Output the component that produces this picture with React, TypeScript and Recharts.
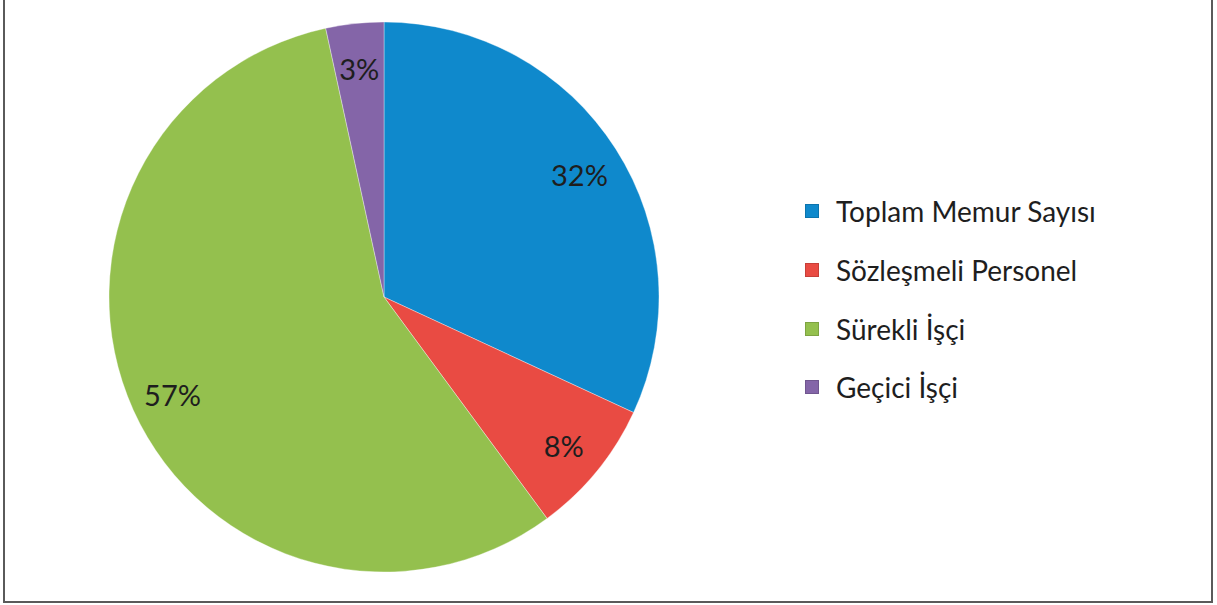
import React from 'react';
import { PieChart, Pie, Cell, Legend } from 'recharts';

// Personel dağılımı (yüzde)
const categories = ['Toplam Memur Sayısı', 'Sözleşmeli Personel', 'Sürekli İşçi', 'Geçici İşçi'];
const shares = [31.9, 8.0, 56.7, 3.4];
const colors = ['#0F89CC', '#E94B43', '#94C04E', '#8465A8'];

const data = categories.map((name, i) => ({ name, value: shares[i] }));

const RAD = Math.PI / 180;
const FONT = 'Lato, "Open Sans", "Noto Sans", sans-serif';

// Yüzde etiketi, dilimin içinde
const renderLabel = (props: any) => {
  const { cx, cy, midAngle, percent } = props;
  const r = 232;
  const x = cx + r * Math.cos(-midAngle * RAD);
  const y = cy + r * Math.sin(-midAngle * RAD) + 2;
  return (
    <text
      x={x}
      y={y}
      fill="#1e1e1e"
      textAnchor="middle"
      dominantBaseline="central"
      fontSize={29}
      fontFamily={FONT}
    >
      {`${Math.round(percent * 100)}%`}
    </text>
  );
};

const renderLegend = () => (
  <div style={{ fontFamily: FONT, fontSize: 28, color: '#1e1e1e' }}>
    {categories.map((name, i) => (
      <div key={name} style={{ display: 'flex', alignItems: 'center', height: 58.7 }}>
        <span
          style={{
            display: 'inline-block',
            width: 14,
            height: 14,
            background: colors[i],
            marginRight: 17,
            boxShadow: 'inset 0 0 0 1px rgba(0,0,0,0.15)',
          }}
        />
        <span>{name}</span>
      </div>
    ))}
  </div>
);

const App: React.FC = () => {
  return (
    <div style={{ position: 'absolute', left: 0, top: 0, width: 1217, height: 605, background: '#fff', overflow: 'hidden' }}>
      <div
        style={{
          position: 'absolute',
          left: 3,
          top: -5,
          width: 1210,
          height: 608,
          boxSizing: 'border-box',
          border: '2px solid #5a5a5a',
        }}
      />
      <PieChart width={1217} height={605} margin={{ top: 0, right: 0, bottom: 0, left: 0 }}>
        <Pie
          data={data}
          dataKey="value"
          nameKey="name"
          cx={384}
          cy={297}
          outerRadius={275}
          startAngle={90}
          endAngle={-270}
          stroke="rgba(255,255,255,0.35)"
          strokeWidth={1}
          label={renderLabel}
          labelLine={false}
          isAnimationActive={false}
        >
          {data.map((d, i) => (
            <Cell key={d.name} fill={colors[i]} />
          ))}
        </Pie>
        <Legend
          layout="vertical"
          align="right"
          verticalAlign="middle"
          content={renderLegend}
          wrapperStyle={{ left: 805, right: 'auto', top: 182, width: 400 }}
        />
      </PieChart>
    </div>
  );
};

export default App;
